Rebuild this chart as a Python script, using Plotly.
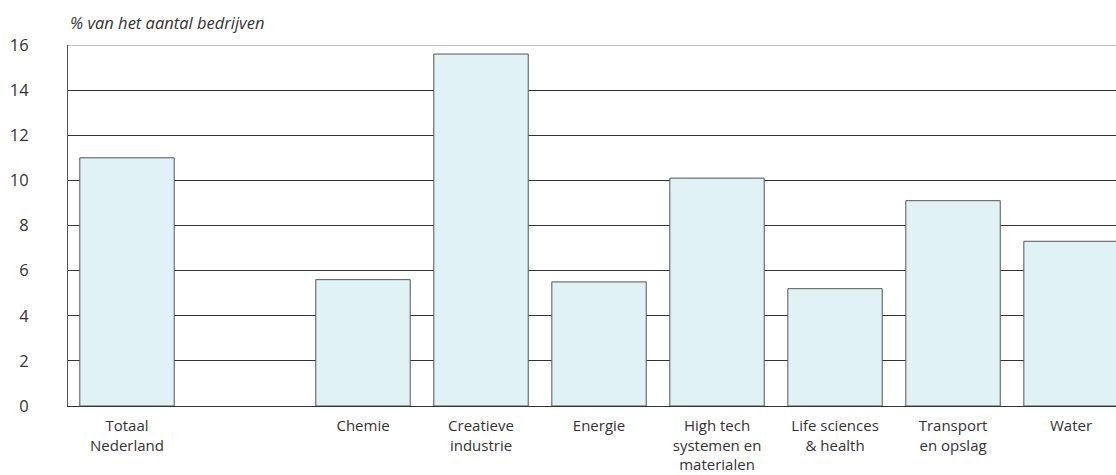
import plotly.graph_objects as go

categories = ["Totaal<br>Nederland", "", "Chemie", "Creatieve<br>industrie", "Energie",
              "High tech<br>systemen en<br>materialen", "Life sciences<br>& health",
              "Transport<br>en opslag", "Water"]
values = [11.0, None, 5.6, 15.6, 5.5, 10.1, 5.2, 9.1, 7.3]
y_ticks = [0, 2, 4, 6, 8, 10, 12, 14, 16]
y_title = "% van het aantal bedrijven"

positions = list(range(len(categories)))

fig = go.Figure()
fig.add_trace(go.Bar(
    x=positions, y=values, width=0.8,
    marker=dict(color="#e0f2f5", line=dict(color="#555555", width=1)),
    hoverinfo="skip",
))

font_family = "'Open Sans', sans-serif"
fs = 16.5
fig.update_layout(
    width=1116, height=475,
    margin=dict(l=68, r=0, t=45, b=69),
    paper_bgcolor="white", plot_bgcolor="white",
    showlegend=False,
    font=dict(family=font_family, size=fs, color="#333333"),
    xaxis=dict(
        range=[-0.5, 8.381],
        tickmode="array", tickvals=positions, ticktext=categories,
        showgrid=False, zeroline=False,
        showline=True, linecolor="#333333", linewidth=1,
        ticks="", ticklabelstandoff=6, automargin=False,
        tickfont=dict(size=15, color="#333333"),
        fixedrange=True,
    ),
    yaxis=dict(
        range=[0, 16],
        tickmode="array", tickvals=y_ticks,
        showgrid=True, gridcolor="#333333", gridwidth=1,
        zeroline=False,
        showline=True, linecolor="#555555", linewidth=1,
        ticks="", ticklabelstandoff=35, automargin=False,
        tickfont=dict(size=fs, color="#333333"),
        fixedrange=True,
    ),
    shapes=[dict(
        type="line", xref="paper", yref="y", x0=0, x1=1, y0=16, y1=16,
        line=dict(color="#888888", width=1), layer="below",
    )],
    annotations=[dict(
        text="<i>" + y_title + "</i>", xref="paper", yref="paper",
        x=0, y=1, xanchor="left", yanchor="bottom", yshift=9,
        showarrow=False, font=dict(size=fs, color="#333333"),
    )],
)

fig.write_html("out.html", config={"displayModeBar": False},
               post_script="document.body.style.margin='0';")
